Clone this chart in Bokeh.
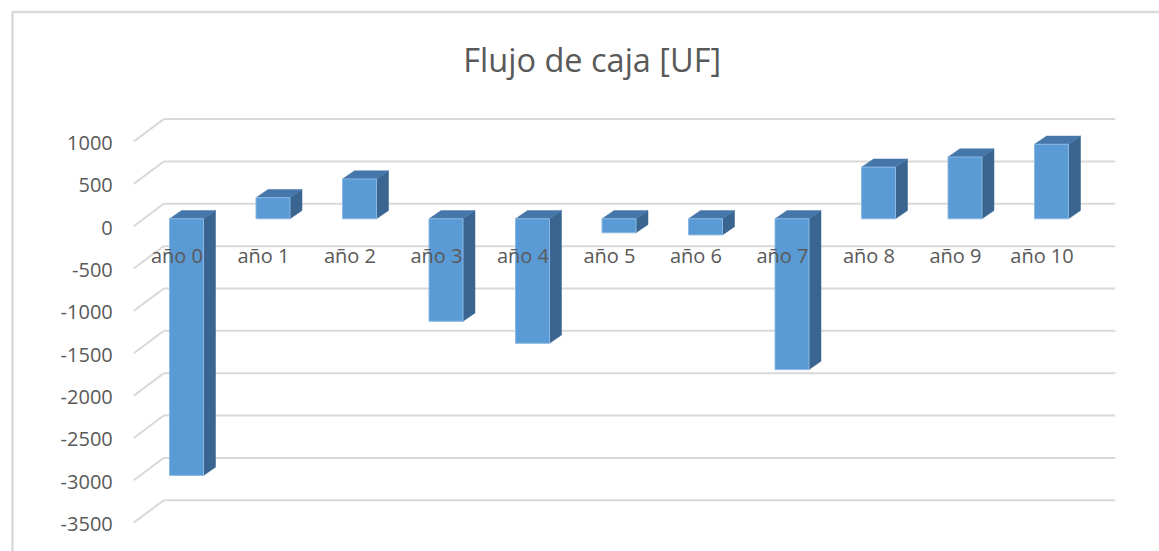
from bokeh.plotting import figure
from bokeh.models import Range1d
from bokeh.core.properties import value
from bokeh.embed import file_html
from bokeh.resources import INLINE

# ---- data ----
categories = ["año 0", "año 1", "año 2", "año 3", "año 4", "año 5",
              "año 6", "año 7", "año 8", "año 9", "año 10"]
flujo = [-3030, 250, 470, -1210, -1470, -165, -190, -1780, 610, 730, 880]
y_ticks = [1000, 500, 0, -500, -1000, -1500, -2000, -2500, -3000, -3500]
title_text = "Flujo de caja [UF]"

# ---- canvas / scales ----
W, H = 1159, 551
PX_PER_CAT = 86.5          # pixels per category
PX_PER_UNIT = 0.0847       # pixels per UF
X0_PX = 176.5              # pixel x of category 0 on the front plane
Y0_PX = 225.7              # pixel y of value 0 on the front plane


def dx(px):
    return px / PX_PER_CAT


def dy(px):
    return px / PX_PER_UNIT


def data_x(px):
    return (px - X0_PX) / PX_PER_CAT


def data_y(px):
    return (Y0_PX - px) / PX_PER_UNIT


p = figure(width=W, height=H, output_backend="svg", toolbar_location=None,
           x_axis_location=None, y_axis_location=None,
           min_border=0, min_border_left=0, min_border_right=0,
           min_border_top=0, min_border_bottom=0)
p.x_range = Range1d(data_x(0), data_x(W))
p.y_range = Range1d(data_y(H), data_y(0))
p.outline_line_color = None
p.background_fill_color = "white"
p.border_fill_color = "white"
p.grid.grid_line_color = None

TEXT = "#595959"
GRID = "#d9d9d9"
FONT = value("Open Sans")

# depth of the 3-D box (front plane -> back wall)
WALL_DX, WALL_DY = dx(30), dy(22.4)
# bar slab inside the box
BAR_FX, BAR_FY = dx(9.5), dy(7.4)
BAR_BX, BAR_BY = dx(21.5), dy(15.6)
HALF_W = dx(17)

left_edge = -0.5
right_edge = len(categories) - 0.5

# back-wall gridlines and the receding lines on the side wall
p.segment(x0=[left_edge + WALL_DX] * len(y_ticks),
          y0=[t + WALL_DY for t in y_ticks],
          x1=[right_edge + WALL_DX] * len(y_ticks),
          y1=[t + WALL_DY for t in y_ticks],
          line_color=GRID, line_width=2)
p.segment(x0=[left_edge] * len(y_ticks), y0=y_ticks,
          x1=[left_edge + WALL_DX] * len(y_ticks),
          y1=[t + WALL_DY for t in y_ticks],
          line_color=GRID, line_width=2)

# ---- 3-D columns ----
idx = list(range(len(categories)))
side_xs, side_ys, top_xs, top_ys = [], [], [], []
for i, v in zip(idx, flujo):
    xf = i + BAR_FX + HALF_W
    xb = i + BAR_BX + HALF_W
    side_xs.append([xf, xf, xb, xb])
    side_ys.append([BAR_FY, v + BAR_FY, v + BAR_BY, BAR_BY])
    top = max(v, 0)
    top_xs.append([i + BAR_FX - HALF_W, i + BAR_FX + HALF_W,
                   i + BAR_BX + HALF_W, i + BAR_BX - HALF_W])
    top_ys.append([top + BAR_FY, top + BAR_FY, top + BAR_BY, top + BAR_BY])

p.patches(side_xs, side_ys, fill_color="#3a6590", line_color="#3a6590",
          line_width=0.5)
p.patches(top_xs, top_ys, fill_color="#4677aa", line_color="#4677aa",
          line_width=0.5)
p.vbar(x=[i + BAR_FX for i in idx], width=2 * HALF_W,
       bottom=[BAR_FY] * len(idx), top=[v + BAR_FY for v in flujo],
       fill_color="#5b9bd5", line_color="#8ab8e2", line_width=1)

# ---- texts ----
p.text(x=[left_edge] * len(y_ticks), y=y_ticks,
       text=[str(t) for t in y_ticks], x_offset=-21, y_offset=1.5,
       text_align="right", text_baseline="alphabetic",
       text_font=FONT, text_font_size="20px", text_color=TEXT)

p.text(x=idx, y=[0] * len(idx), text=categories, y_offset=29.5,
       text_align="center", text_baseline="alphabetic",
       text_font=FONT, text_font_size="20px", text_color=TEXT)

p.text(x=[data_x(591.7)], y=[data_y(58.5)], text=[title_text],
       text_align="center", text_baseline="alphabetic",
       text_font=FONT, text_font_size="32.5px", text_color=TEXT)

# chart area frame
p.line(x=[data_x(12), data_x(12), data_x(W + 5)],
       y=[data_y(H + 5), data_y(11.5), data_y(11.5)],
       line_color=GRID, line_width=2.5)

open("out.html", "w").write(file_html(p, INLINE))
